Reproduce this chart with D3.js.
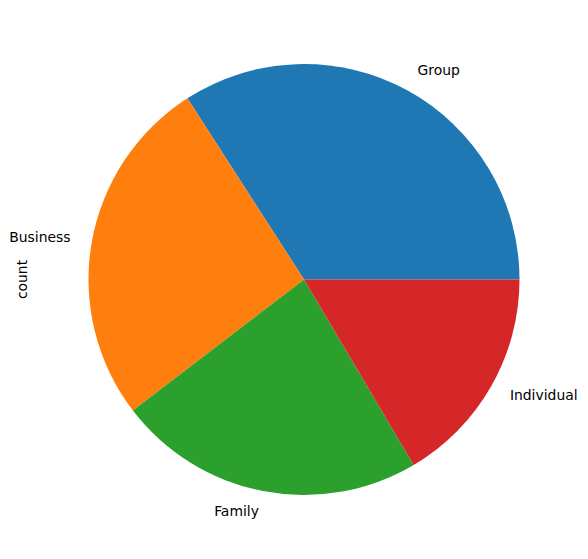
<!DOCTYPE html>
<html>
<head>
<meta charset="utf-8">
<script src="https://cdn.jsdelivr.net/npm/d3@7"></script>
<style>
  body { margin: 0; background: #fff; }
  text { font-family: "DejaVu Sans", sans-serif; }
</style>
</head>
<body>
<div id="chart"></div>
<script>
// Werte aus dem Bild geschätzt
const categories = ["Group", "Business", "Family", "Individual"];
const counts = [341, 263, 231, 165];
const colors = ["#1f77b4", "#ff7f0e", "#2ca02c", "#d62728"];

const width = 588;
const height = 559;
const cx = 304, cy = 279.5, radius = 215.5;

const svg = d3.select("#chart")
  .append("svg")
  .attr("width", width)
  .attr("height", height);

const g = svg.append("g")
  .attr("transform", `translate(${cx},${cy})`);

// matplotlib: Start bei 3 Uhr, gegen den Uhrzeigersinn
const pie = d3.pie()
  .sort(null)
  .value(d => d.value)
  .startAngle(Math.PI / 2)
  .endAngle(Math.PI / 2 - 2 * Math.PI);

const data = categories.map((c, i) => ({ name: c, value: counts[i], color: colors[i] }));
const arcs = pie(data);

const arc = d3.arc().innerRadius(0).outerRadius(radius);

g.selectAll("path")
  .data(arcs)
  .enter()
  .append("path")
  .attr("d", arc)
  .attr("fill", d => d.data.color);

// Beschriftungen bei 1.1 * Radius
g.selectAll(".label")
  .data(arcs)
  .enter()
  .append("text")
  .attr("class", "label")
  .each(function (d) {
    const a = (d.startAngle + d.endAngle) / 2;
    const x = Math.sin(a) * radius * 1.1;
    const y = -Math.cos(a) * radius * 1.1 - 1.5;
    d3.select(this)
      .attr("x", x)
      .attr("y", y)
      .attr("text-anchor", x > 0 ? "start" : "end")
      .attr("dominant-baseline", "central");
  })
  .style("font-size", "13.9px")
  .text(d => d.data.name);

// y-Achsenbeschriftung
svg.append("text")
  .attr("transform", `translate(21.5,${cy}) rotate(-90)`)
  .attr("text-anchor", "middle")
  .attr("dominant-baseline", "central")
  .style("font-size", "13.9px")
  .text("count");
</script>
</body>
</html>
